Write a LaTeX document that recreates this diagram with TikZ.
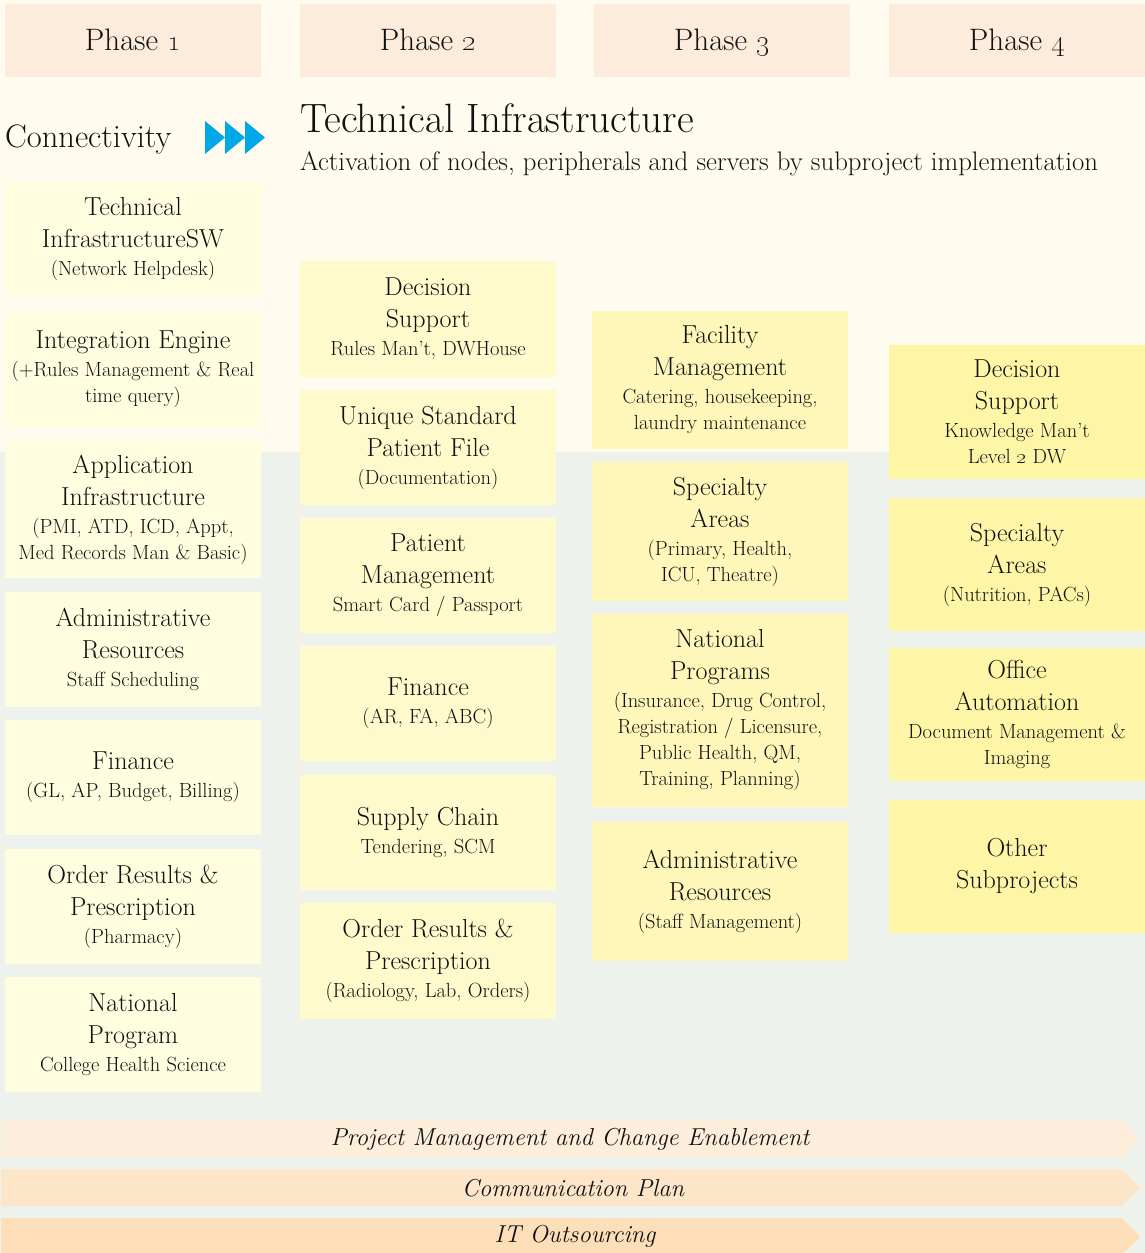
\documentclass[tikz,border=0pt]{standalone}
\definecolor{cream}{HTML}{FFFCEF}
\definecolor{sage}{HTML}{EDF3EC}
\definecolor{peach}{HTML}{FDEBDC}
\definecolor{yA}{HTML}{FEFDE0}
\definecolor{yB}{HTML}{FFFACC}
\definecolor{yC}{HTML}{FEF7B9}
\definecolor{yD}{HTML}{FFF5A7}
\definecolor{barA}{HTML}{FDEEDC}
\definecolor{barB}{HTML}{FDE5C9}
\definecolor{barC}{HTML}{FCDEB9}
\definecolor{arrowblue}{HTML}{00A8E8}
\definecolor{ink}{HTML}{111111}
\newcommand\subt[1]{{\fontsize{20.5}{24}\selectfont #1}}
\begin{document}
\begin{tikzpicture}[x=1pt,y=-1pt,
  box/.style={inner sep=0pt, align=center, minimum width=256pt, text=ink,
    font=\fontsize{26}{32}\selectfont},
  phase/.style={box, fill=peach, minimum height=73pt, text height=22pt, text depth=3pt,
    font=\fontsize{31}{34}\selectfont},
  c1/.style={box, fill=yA},
  c2/.style={box, fill=yB},
  c3/.style={box, fill=yC},
  c4/.style={box, fill=yD},
  bartext/.style={inner sep=0pt, text=ink, font=\fontsize{24.5}{28}\selectfont\itshape},
  tri/.style={fill=arrowblue}]
\useasboundingbox (0,0) rectangle (1145,1253);
\fill[cream] (0,0) rectangle (1145,452);
\fill[sage] (0,452) rectangle (1145,1253);

% phase headers
\node[phase] (h1) at (133,40.5) {Phase \oldstylenums{1}};
\node[phase] (h2) at (428,40.5) {Phase \oldstylenums{2}};
\node[phase] (h3) at (722,40.5) {Phase \oldstylenums{3}};
\node[phase] (h4) at (1017,40.5) {Phase \oldstylenums{4}};

% titles
\node[anchor=base west, inner sep=0pt, text=ink, font=\fontsize{32.5}{36}\selectfont] (conn) at (5,147) {Connectivity};
\fill[tri] (205,121) -- (225,137.5) -- (205,154) -- cycle;
\fill[tri] (225,121) -- (245,137.5) -- (225,154) -- cycle;
\fill[tri] (245,121) -- (265,137.5) -- (245,154) -- cycle;
\node[anchor=base west, inner sep=0pt, text=ink, font=\fontsize{41}{44}\selectfont] (techinf) at (300,132) {Technical Infrastructure};
\node[anchor=base west, inner sep=0pt, text=ink, font=\fontsize{26.8}{30}\selectfont] (activ) at (300,170) {Activation of nodes, peripherals and servers by subproject implementation};

% column 1
\node[c1, minimum height=115pt] (a1) at (133,239.5) {Technical\\InfrastructureSW\\[-4pt]\subt{(Network Helpdesk)}};
\node[c1, minimum height=115pt] (a2) at (133,369.5) {Integration Engine\\[-4pt]\subt{(+Rules Management \& Real}\\[-6pt]\subt{time query)}};
\node[c1, minimum height=137pt] (a3) at (133,509.5) {Application\\Infrastructure\\[-4pt]\subt{(PMI, ATD, ICD, Appt,}\\[-6pt]\subt{Med Records Man \& Basic)}};
\node[c1, minimum height=115pt] (a4) at (133,649.5) {Administrative\\Resources\\[-4pt]\subt{Staff Scheduling}};
\node[c1, minimum height=115pt] (a5) at (133,777.5) {Finance\\[-4pt]\subt{(GL, AP, Budget, Billing)}};
\node[c1, minimum height=115pt] (a6) at (133,906.5) {Order Results \&\\Prescription\\[-4pt]\subt{(Pharmacy)}};
\node[c1, minimum height=115pt] (a7) at (133,1034.5) {National\\Program\\[-4pt]\subt{College Health Science}};

% column 2
\node[c2, minimum height=116pt] (b1) at (428,319) {Decision\\Support\\[-4pt]\subt{Rules Man't, DWHouse}};
\node[c2, minimum height=115pt] (b2) at (428,447.5) {Unique Standard\\Patient File\\[-4pt]\subt{(Documentation)}};
\node[c2, minimum height=115pt] (b3) at (428,575.5) {Patient\\Management\\[-4pt]\subt{Smart Card / Passport}};
\node[c2, minimum height=115pt] (b4) at (428,703.5) {Finance\\[-4pt]\subt{(AR, FA, ABC)}};
\node[c2, minimum height=115pt] (b5) at (428,832.5) {Supply Chain\\[-4pt]\subt{Tendering, SCM}};
\node[c2, minimum height=116pt] (b6) at (428,961) {Order Results \&\\Prescription\\[-4pt]\subt{(Radiology, Lab, Orders)}};

% column 3
\node[c3, minimum height=138pt] (c1n) at (720,380) {Facility\\Management\\[-4pt]\subt{Catering, housekeeping,}\\[-6pt]\subt{laundry maintenance}};
\node[c3, minimum height=139pt] (c2n) at (720,531.5) {Specialty\\Areas\\[-4pt]\subt{(Primary, Health,}\\[-6pt]\subt{ICU, Theatre)}};
\node[c3, minimum height=193pt] (c3n) at (720,710.5) {National\\Programs\\[-4pt]\subt{(Insurance, Drug Control,}\\[-6pt]\subt{Registration / Licensure,}\\[-6pt]\subt{Public Health, QM,}\\[-6pt]\subt{Training, Planning)}};
\node[c3, minimum height=139pt] (c4n) at (720,891.5) {Administrative\\Resources\\[-4pt]\subt{(Staff Management)}};

% column 4
\node[c4, minimum height=134pt] (d1) at (1017,412) {Decision\\Support\\[-4pt]\subt{Knowledge Man't}\\[-6pt]\subt{Level \oldstylenums{2} DW}};
\node[c4, minimum height=133pt] (d2) at (1017,564.5) {Specialty\\Areas\\[-4pt]\subt{(Nutrition, PACs)}};
\node[c4, minimum height=133pt] (d3) at (1017,714.5) {Office\\Automation\\[-4pt]\subt{Document Management \&}\\[-6pt]\subt{Imaging}};
\node[c4, minimum height=133pt] (d4) at (1017,866.5) {Other\\Subprojects};

% bottom bars
\fill[barA] (1,1120) -- (1122,1120) -- (1140,1138.5) -- (1122,1157) -- (1,1157) -- cycle;
\fill[barB] (1,1169) -- (1122,1169) -- (1140,1187.5) -- (1122,1206) -- (1,1206) -- cycle;
\fill[barC] (1,1218) -- (1122,1218) -- (1140,1236.5) -- (1122,1255) -- (1,1255) -- cycle;
\node[bartext] (pm) at (570,1139) {Project Management and Change Enablement};
\node[bartext] (cp) at (573,1188) {Communication Plan};
\node[bartext] (it) at (575,1236) {IT Outsourcing};
\end{tikzpicture}
\end{document}
